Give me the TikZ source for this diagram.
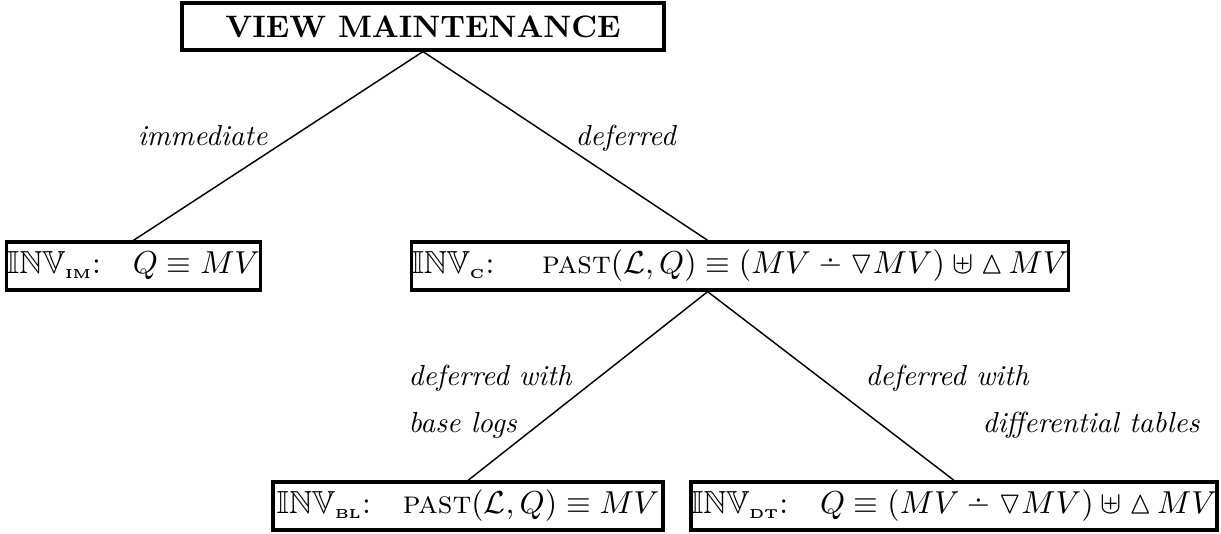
\documentclass[tikz,border=0pt]{standalone}
\usepackage{amssymb}
\usetikzlibrary{calc}
\newcommand{\INVsub}[1]{\mathbb{INV}_{\mbox{\fontsize{4.5}{5}\selectfont\bfseries #1}}}
\newcommand{\dmin}{\mathbin{\ooalign{$-$\cr\hidewidth\raise0.42ex\hbox{$\cdot$}\hidewidth\cr}}}
\newcommand{\tdn}{{\triangledown}}
\newcommand{\tup}{{\vartriangle}\,}
\begin{document}
\begin{tikzpicture}[x=0.345pt, y=-0.345pt,
  box/.style={draw, line width=1.1pt, inner sep=0pt, minimum height=16.6pt, font=\fontsize{11}{13}\selectfont},
  conn/.style={line width=0.5pt},
  lab/.style={font=\itshape, inner sep=0pt}]
\useasboundingbox (0,0) rectangle (1221,533);
\node[box, minimum width=166.3pt, minimum height=16.2pt, font=\bfseries\fontsize{10.7}{13}\selectfont] (top) at (423,26.5) {VIEW MAINTENANCE};
\node[box, minimum width=86.6pt] (im) at (133.5,266) {$\INVsub{IM}\mathrm{:}\quad Q\equiv MV$};
\node[box, minimum width=224.3pt] (c) at (740,266) {$\INVsub{C}\mathrm{:}\hspace{1.5em} \textsc{past}(\mathcal{L},Q)\equiv(MV\dmin\tdn MV)\uplus\tup MV$};
\node[box, minimum width=134.6pt] (bl) at (468,506) {$\INVsub{BL}\mathrm{:}\quad \textsc{past}(\mathcal{L},Q)\equiv MV$};
\node[box, minimum width=178.7pt] (dt) at (954,506) {$\INVsub{DT}\mathrm{:}\quad Q\equiv(MV\dmin\tdn MV)\uplus\tup MV$};
\coordinate (ctop) at ($(c.north west)!0.451!(c.north east)$);
\coordinate (cbot) at ($(c.south west)!0.451!(c.south east)$);
\draw[conn] (top.south) -- (im.north);
\draw[conn] (top.south) -- (ctop);
\draw[conn] (cbot) -- (bl.north);
\draw[conn] (cbot) -- (dt.north);
\node[lab, anchor=base east] (l1) at (268,145) {immediate};
\node[lab, anchor=base west] (l2) at (575,145) {deferred};
\node[lab, anchor=base west] (l3) at (408,385) {deferred with};
\node[lab, anchor=base west] (l4) at (408,432) {base logs};
\node[lab, anchor=base west] (l5) at (865,385) {deferred with};
\node[lab, anchor=base east] (l6) at (1200,432) {differential tables};
\end{tikzpicture}
\end{document}
